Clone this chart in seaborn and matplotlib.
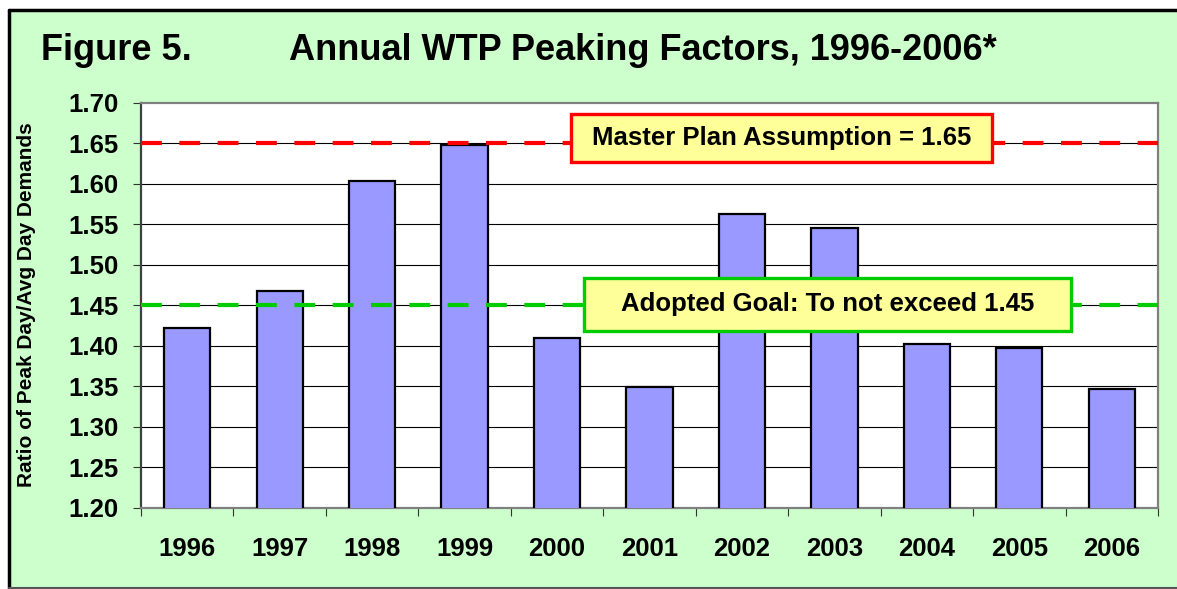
import matplotlib
matplotlib.use("Agg")
import matplotlib.pyplot as plt
import seaborn as sns
import pandas as pd
from matplotlib.patches import Rectangle
from matplotlib.lines import Line2D
from matplotlib.ticker import FixedLocator

# ---- data ----
years = ["1996", "1997", "1998", "1999", "2000", "2001", "2002", "2003", "2004", "2005", "2006"]
peaking_factor = [1.422, 1.467, 1.603, 1.648, 1.410, 1.349, 1.562, 1.545, 1.402, 1.397, 1.346]
master_plan_value = 1.65
adopted_goal_value = 1.45
y_ticks = [1.20, 1.25, 1.30, 1.35, 1.40, 1.45, 1.50, 1.55, 1.60, 1.65, 1.70]

title_left = "Figure 5."
title_main = "Annual WTP Peaking Factors, 1996-2006*"
y_label = "Ratio of Peak Day/Avg Day Demands"
master_label = "Master Plan Assumption = 1.65"
goal_label = "Adopted Goal: To not exceed 1.45"

df = pd.DataFrame({"year": years, "factor": peaking_factor})

sns.set_style("white")
plt.rcParams["font.family"] = ["Liberation Sans", "DejaVu Sans"]
plt.rcParams["font.weight"] = "bold"
plt.rcParams["text.color"] = "black"
plt.rcParams["xtick.color"] = "black"
plt.rcParams["ytick.color"] = "black"

W, H = 1177, 589
fig = plt.figure(figsize=(W / 100, H / 100), dpi=100)
fig.patch.set_facecolor("white")

# green background panel with border
fig.patches.append(Rectangle((9 / W, 1.5 / H), 1 - 9 / W, 1 - 11 / H, transform=fig.transFigure,
                             facecolor="#CCFFCC", edgecolor="none", zorder=-5))
fig.lines.append(Line2D([9 / W, 1], [1 - 9.5 / H] * 2, transform=fig.transFigure, color="black", lw=2.5, zorder=-4))
fig.lines.append(Line2D([9 / W] * 2, [1.5 / H, 1 - 9.5 / H], transform=fig.transFigure, color="black", lw=2.5, zorder=-4))
fig.lines.append(Line2D([9 / W, 1], [1.5 / H] * 2, transform=fig.transFigure, color="#555555", lw=1.5, zorder=-4))

ax_left, ax_right = 141 / W, 1158 / W
ax_top, ax_bottom = 1 - 102.5 / H, 1 - 507.7 / H
ax = fig.add_axes([ax_left, ax_bottom, ax_right - ax_left, ax_top - ax_bottom])
ax.set_zorder(1)
ax.set_facecolor("white")

sns.barplot(data=df, x="year", y="factor", ax=ax, color="#9999FF", saturation=1,
            width=0.5, edgecolor="black", linewidth=1.6, zorder=3)

ax.set_ylim(1.20, 1.70)
ax.set_xlim(-0.5, len(years) - 0.5)
ax.set_yticks(y_ticks)
ax.set_yticklabels([f"{v:.2f}" for v in y_ticks])
for v in y_ticks[1:-1]:
    ax.axhline(v, color="black", lw=0.8, zorder=1)

ax.set_xlabel("")
ax.set_ylabel("")

# x ticks between categories
ax.xaxis.set_minor_locator(FixedLocator([i - 0.5 for i in range(len(years) + 1)]))
ax.tick_params(axis="x", which="major", length=0, pad=21, labelsize=18.5, labelcolor="black")
ax.tick_params(axis="x", which="minor", bottom=True, length=6, width=0.8, color="#333333", direction="out")
ax.tick_params(axis="y", which="major", left=True, length=6, width=0.8, color="#333333",
               direction="out", pad=10, labelsize=18.5, labelcolor="black")
for lbl in ax.get_xticklabels() + ax.get_yticklabels():
    lbl.set_fontweight("bold")

for side in ["left", "right", "top", "bottom"]:
    ax.spines[side].set_visible(True)
    ax.spines[side].set_color("#808080")
    ax.spines[side].set_linewidth(1.6)
ax.spines["left"].set_color("#404040")

# reference lines
ax.axhline(master_plan_value, color="#FF0000", lw=3, dashes=(5, 4.2), zorder=4)
ax.axhline(adopted_goal_value, color="#00CC00", lw=3, dashes=(5, 4.2), zorder=4)

# annotation boxes (axes fraction)
def label_box(x0, x1, y0, y1, text, edge):
    ax.add_patch(Rectangle((x0, y0), x1 - x0, y1 - y0, transform=ax.transAxes,
                           facecolor="#FFFF99", edgecolor=edge, lw=2.4, zorder=6, clip_on=False))
    ax.text((x0 + x1) / 2, (y0 + y1) / 2, text, transform=ax.transAxes, ha="center", va="center",
            fontsize=18.5, fontweight="bold", color="black", zorder=7)

label_box(0.4228, 0.8368, 0.8532, 0.9716, master_label, "#FF0000")
label_box(0.4356, 0.9145, 0.4361, 0.5669, goal_label, "#00CC00")

# titles
fig.text(41 / W, 1 - 51 / H, title_left, ha="left", va="center", fontsize=26, fontweight="bold", color="black")
fig.text(643 / W, 1 - 51 / H, title_main, ha="center", va="center", fontsize=26, fontweight="bold", color="black")
fig.text(27 / W, 1 - 305 / H, y_label, ha="center", va="center", rotation=90, fontsize=15,
         fontweight="bold", color="black")

fig.savefig("out.png", dpi=100, facecolor=fig.get_facecolor())
